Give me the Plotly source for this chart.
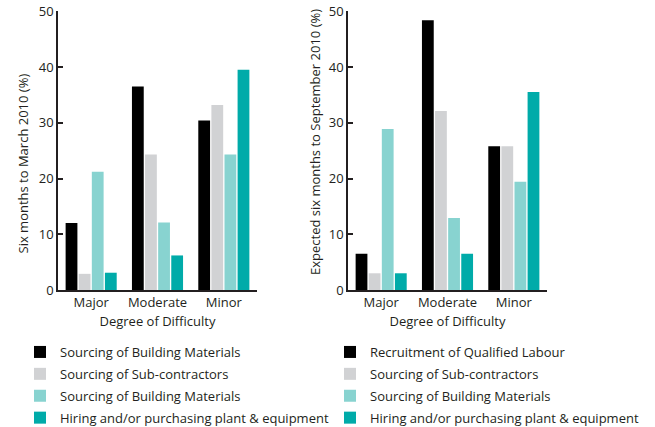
import plotly.graph_objects as go

categories = ["Major", "Moderate", "Minor"]

left_names = ["Sourcing of Building Materials", "Sourcing of Sub-contractors",
              "Sourcing of Building Materials", "Hiring and/or purchasing plant & equipment"]
right_names = ["Recruitment of Qualified Labour", "Sourcing of Sub-contractors",
               "Sourcing of Building Materials", "Hiring and/or purchasing plant & equipment"]

left_values = [
    [12.0, 36.5, 30.4],
    [2.9, 24.3, 33.2],
    [21.2, 12.1, 24.3],
    [3.1, 6.2, 39.5],
]
right_values = [
    [6.5, 48.4, 25.8],
    [3.0, 32.1, 25.8],
    [28.9, 12.9, 19.4],
    [3.0, 6.5, 35.5],
]

colors = ["#000000", "#d1d2d4", "#88d3d0", "#00aba9"]
y_ticks = [0, 10, 20, 30, 40, 50]

FONT = "Open Sans"
INK = "#231f20"
W, H = 655, 427


def px_x(p):
    return p / W


def px_y(p):
    return (H - p) / H


fig = go.Figure()
for i in range(4):
    fig.add_trace(go.Bar(x=categories, y=left_values[i], name=left_names[i],
                         marker=dict(color=colors[i], line=dict(width=0)),
                         xaxis="x", yaxis="y", legend="legend",
                         legendgroup="L%d" % i))
for i in range(4):
    fig.add_trace(go.Bar(x=categories, y=right_values[i], name=right_names[i],
                         marker=dict(color=colors[i], line=dict(width=0)),
                         xaxis="x2", yaxis="y2", legend="legend2",
                         legendgroup="R%d" % i))

ydom = [px_y(290), px_y(11.3)]

axis_common = dict(showline=True, linecolor=INK, linewidth=1.5, showgrid=False,
                   zeroline=False, automargin=False, ticklabeloverflow="allow")
yaxis_common = dict(axis_common, range=[0, 50], tickvals=y_ticks, ticks="inside",
                    ticklen=5, tickwidth=1.5, tickcolor=INK,
                    tickfont=dict(family=FONT, size=13, color=INK), domain=ydom)
xaxis_common = dict(axis_common, ticks="", tickfont=dict(family=FONT, size=13, color=INK),
                    title=dict(text="Degree of Difficulty", standoff=7,
                               font=dict(family=FONT, size=13, color=INK)))

legend_common = dict(font=dict(family=FONT, size=13, color=INK), bgcolor="rgba(0,0,0,0)",
                     orientation="v", xanchor="left", yanchor="top",
                     tracegroupgap=2, traceorder="grouped", itemclick=False)

fig.update_layout(
    template="none",
    width=W, height=H,
    margin=dict(l=0, r=0, t=0, b=0, autoexpand=False),
    paper_bgcolor="white", plot_bgcolor="white",
    barmode="group", bargap=0.21, bargroupgap=0.1,
    font=dict(family=FONT, size=13, color=INK),
    xaxis=dict(xaxis_common, domain=[px_x(58), px_x(257)], anchor="y"),
    yaxis=dict(yaxis_common, anchor="x"),
    xaxis2=dict(xaxis_common, domain=[px_x(348), px_x(547)], anchor="y2"),
    yaxis2=dict(yaxis_common, anchor="x2"),
    legend=dict(legend_common, x=px_x(20), y=px_y(337)),
    legend2=dict(legend_common, x=px_x(330), y=px_y(337)),
    annotations=[
        dict(text="Six months to March 2010 (%)", textangle=-90, xref="paper", yref="paper",
             x=px_x(22.5), y=px_y(164), showarrow=False, xanchor="center", yanchor="middle",
             font=dict(family=FONT, size=13, color=INK)),
        dict(text="Expected six months to September 2010 (%)", textangle=-90, xref="paper",
             yref="paper", x=px_x(315), y=px_y(142), showarrow=False, xanchor="center",
             yanchor="middle", font=dict(family=FONT, size=13, color=INK)),
    ],
)

fig.write_html("out.html",
               config={"displayModeBar": False},
               post_script="document.body.style.margin='0';document.body.style.overflow='hidden';")
